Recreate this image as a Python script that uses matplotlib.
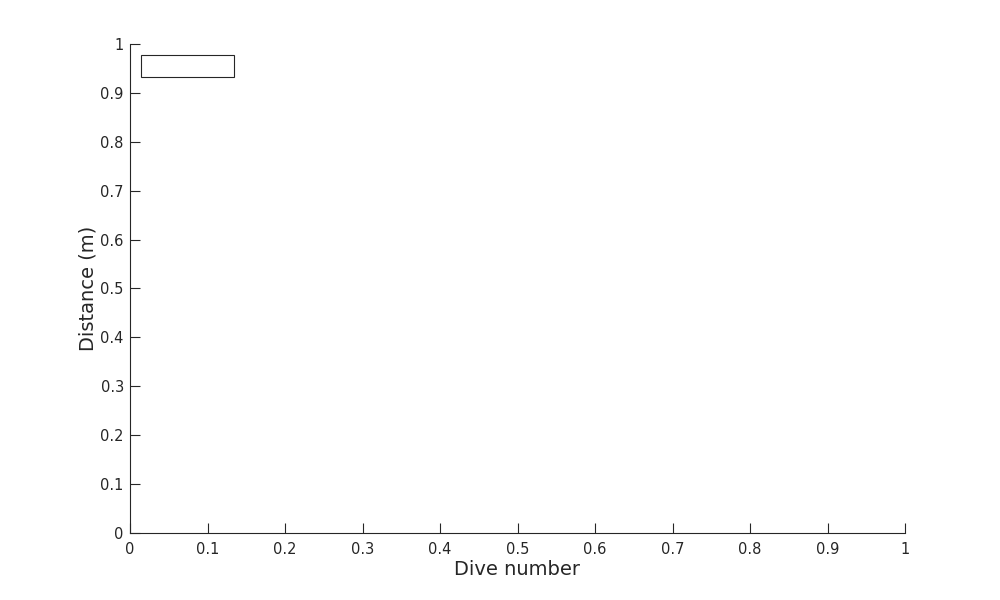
import matplotlib
matplotlib.use("Agg")
import matplotlib.pyplot as plt
from matplotlib.patches import Rectangle
import numpy as np

x_ticks = [0, 0.1, 0.2, 0.3, 0.4, 0.5, 0.6, 0.7, 0.8, 0.9, 1]
y_ticks = [0, 0.1, 0.2, 0.3, 0.4, 0.5, 0.6, 0.7, 0.8, 0.9, 1]
x_label = "Dive number"
y_label = "Distance (m)"

plt.rcParams['font.family'] = ['DejaVu Sans']
fig = plt.figure(figsize=(10, 6), dpi=100)
ax = fig.add_axes([0.13, 0.1117, 0.775, 0.815])
col = '#262626'
ax.set_xlim(0, 1)
ax.set_ylim(0, 1)
ax.set_xticks(x_ticks)
ax.set_yticks(y_ticks)
ax.set_xticklabels([f"{v:g}" for v in x_ticks])
ax.set_yticklabels([f"{v:g}" for v in y_ticks])
for s in ['top', 'right']:
    ax.spines[s].set_visible(False)
for s in ['left', 'bottom']:
    ax.spines[s].set_color(col)
    ax.spines[s].set_linewidth(0.8)
ax.tick_params(direction='in', length=7, width=0.8, colors=col, labelsize=10.5)
ax.tick_params(axis='x', pad=6.5)
ax.tick_params(axis='y', pad=4.5)
ax.set_xlabel(x_label, fontsize=14, color=col, labelpad=2)
ax.set_ylabel(y_label, fontsize=14, color=col, labelpad=2)

# empty legend box
ax.add_patch(Rectangle((0.0142, 0.932), 0.12, 0.045, transform=ax.transAxes,
                       fill=True, facecolor='white', edgecolor=col, linewidth=0.8, clip_on=False))

fig.savefig("out.png", dpi=100)
